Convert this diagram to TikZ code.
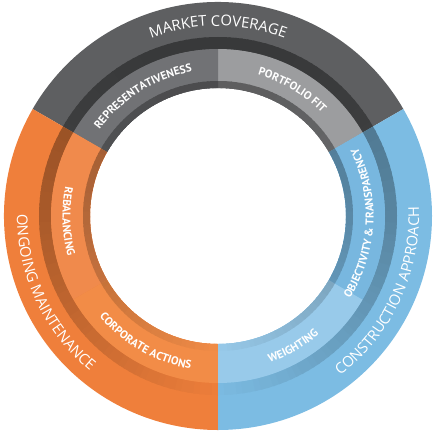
\documentclass[tikz,border=0pt]{standalone}
\usepackage{fontspec}
\setmainfont{Open Sans}
\newfontfamily\ptsans{PT Sans}
\usetikzlibrary{decorations.text}
\definecolor{mgrey}{HTML}{5E5F61}
\definecolor{morange}{HTML}{EF7F3B}
\definecolor{mblue}{HTML}{7CBCE3}
\definecolor{repgrey}{HTML}{717275}
\definecolor{fitgrey}{HTML}{9C9D9F}
\definecolor{rebor}{HTML}{F08A4C}
\definecolor{corpor}{HTML}{F28C47}
\definecolor{objbl}{HTML}{78B7DF}
\definecolor{wgtbl}{HTML}{98CAEA}
\newcommand\outerfont{\fontsize{14.8}{16}\selectfont}
\newcommand\innerfont{\ptsans\bfseries\fontsize{11.3}{13}\selectfont}
% ring segment: color, a1, a2, rin, rout
\newcommand\ringseg[5]{%
  \fill[#1] (#2:#5pt) arc[start angle=#2, end angle=#3, radius=#5pt] -- (#3:#4pt) arc[start angle=#3, end angle=#2, radius=#4pt] -- cycle;}
% shadow band: color, a1, a2, rin, rout, max darkness
\newcommand\shadeseg[6]{%
  \pgfmathtruncatemacro\nseg{(#3-#2)/2}%
  \foreach \k in {1,...,\nseg}{%
    \pgfmathsetmacro\ta{#2+2*(\k-1)}%
    \pgfmathsetmacro\tb{min(\ta+2.7,#3)}%
    \pgfmathsetmacro\tm{\ta+1}%
    \pgfmathtruncatemacro\pc{100-100*#6*sqrt(max((1+sin(\tm))/2,0))}%
    \fill[#1!\pc!black] (\ta:#5pt) arc[start angle=\ta, end angle=\tb, radius=#5pt] -- (\tb:#4pt) arc[start angle=\tb, end angle=\ta, radius=#4pt] -- cycle;
  }}
\tikzset{
  lbl/.style={decorate, decoration={text along path, text align=center, text color=white, text={#1}}}
}
\begin{document}
\begin{tikzpicture}
\useasboundingbox (-218pt,-218pt) rectangle (217pt,216pt);
% outer thirds
\ringseg{mgrey}{30}{150}{128}{214}
\ringseg{morange}{150}{270}{128}{214}
\ringseg{mblue}{270}{390}{128}{214}
% outer shadow band
\shadeseg{mgrey}{30}{150}{167}{179}{0.40}
\shadeseg{morange}{150}{270}{167}{179}{0.40}
\shadeseg{mblue}{270}{390}{167}{179}{0.40}
% inner segments
\ringseg{fitgrey}{30}{90}{128}{167}
\ringseg{repgrey}{90}{150}{128}{167}
\ringseg{rebor}{150}{210}{128}{167}
\ringseg{corpor}{210}{270}{128}{167}
\ringseg{wgtbl}{270}{330}{128}{167}
\ringseg{objbl}{330}{390}{128}{167}
% inner shadow band
\shadeseg{fitgrey}{30}{90}{128}{135}{0.40}
\shadeseg{repgrey}{90}{150}{128}{135}{0.33}
\shadeseg{rebor}{150}{210}{128}{135}{0.35}
\shadeseg{corpor}{210}{270}{128}{135}{0.35}
\shadeseg{wgtbl}{270}{330}{128}{135}{0.35}
\shadeseg{objbl}{330}{390}{128}{135}{0.35}
% outer labels
\path[lbl={|\outerfont|MARKET COVERAGE}] (150:190pt) arc[start angle=150, end angle=30, radius=190pt];
\path[lbl={|\outerfont|ONGOING MAINTENANCE}] (140:201pt) arc[start angle=140, end angle=270, radius=201pt];
\path[lbl={|\outerfont|CONSTRUCTION APPROACH}] (270:201pt) arc[start angle=270, end angle=400, radius=201pt];
% inner labels
\path[lbl={|\innerfont|REPRESENTATIVENESS}] (175:146.5pt) arc[start angle=175, end angle=69, radius=146.5pt];
\path[lbl={|\innerfont|PORTFOLIO FIT}] (100:146.5pt) arc[start angle=100, end angle=19, radius=146.5pt];
\path[lbl={|\innerfont|REBALANCING}] (130:155.5pt) arc[start angle=130, end angle=234, radius=155.5pt];
\path[lbl={|\innerfont|CORPORATE ACTIONS}] (190:155.5pt) arc[start angle=190, end angle=290, radius=155.5pt];
\path[lbl={|\innerfont|WEIGHTING}] (250:155.5pt) arc[start angle=250, end angle=350, radius=155.5pt];
\path[lbl={|\innerfont|OBJECTIVITY {\&} TRANSPARENCY}] (297:155.5pt) arc[start angle=297, end angle=417, radius=155.5pt];
\end{tikzpicture}
\end{document}
